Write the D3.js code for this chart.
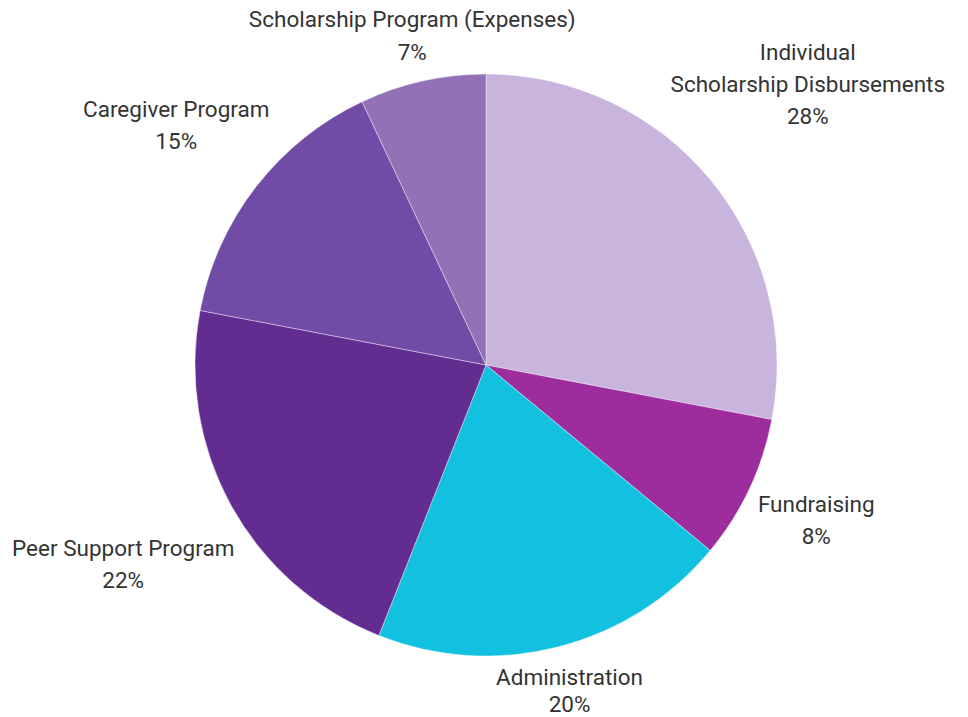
<!DOCTYPE html>
<html>
<head>
<meta charset="utf-8">
<script src="https://cdn.jsdelivr.net/npm/d3@7"></script>
<style>
  html, body { margin: 0; padding: 0; background: #ffffff; }
  svg { display: block; }
  text { font-family: Roboto, "Open Sans", sans-serif; }
</style>
</head>
<body>
<svg id="chart" width="968" height="717"></svg>
<script>
// Expense breakdown
const categories = [
  ["Individual", "Scholarship Disbursements"],
  ["Fundraising"],
  ["Administration"],
  ["Peer Support Program"],
  ["Caregiver Program"],
  ["Scholarship Program (Expenses)"]
];
const shares = [28, 8, 20, 22, 15, 7];
const sliceColors = ["#c9b4dd", "#9d2c9d", "#12c0e0", "#622c91", "#714ca6", "#9371b6"];

// Label layout: distance from the pie centre, angular nudge (degrees), line spacing
const labelRadius = [427, 365, 336, 414, 392, 338];
const labelNudge = [-1.5, 0, 0, 0, 0, 0];
const labelLineGap = [32, 32, 27, 32, 32, 33];

const width = 968, height = 717;
const cx = 486, cy = 365, radius = 291;

const svg = d3.select("#chart");
const g = svg.append("g").attr("transform", `translate(${cx},${cy})`);

const data = shares.map((v, i) => ({
  lines: categories[i], value: v, color: sliceColors[i],
  lr: labelRadius[i], nudge: labelNudge[i] * Math.PI / 180, gap: labelLineGap[i]
}));

const pie = d3.pie().value(d => d.value).sort(null);
const arc = d3.arc().innerRadius(0).outerRadius(radius);
const arcs = pie(data);

g.selectAll("path.slice")
  .data(arcs)
  .join("path")
  .attr("class", "slice")
  .attr("d", arc)
  .attr("fill", d => d.data.color)
  .attr("stroke", "#ffffff")
  .attr("stroke-width", 0.4);

// Labels: category name lines followed by the percentage
const labels = g.selectAll("g.label")
  .data(arcs)
  .join("g")
  .attr("class", "label")
  .attr("transform", d => {
    const a = (d.startAngle + d.endAngle) / 2 + d.data.nudge;
    const x = Math.sin(a) * d.data.lr;
    const y = -Math.cos(a) * d.data.lr;
    return `translate(${x},${y})`;
  });

labels.each(function(d) {
  const lines = d.data.lines.concat([d.data.value + "%"]);
  const n = lines.length;
  const sel = d3.select(this);
  lines.forEach((t, i) => {
    sel.append("text")
      .attr("x", 0)
      .attr("y", (i - (n - 1) / 2) * d.data.gap)
      .attr("dy", "0.35em")
      .attr("text-anchor", "middle")
      .attr("font-size", 22.5)
      .attr("fill", "#333333")
      .text(t);
  });
});
</script>
</body>
</html>
